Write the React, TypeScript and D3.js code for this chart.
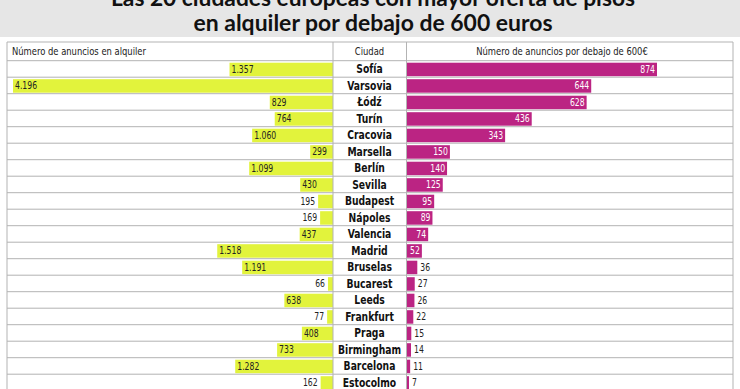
import * as d3 from "d3";

const cities = [
  "Sofía", "Varsovia", "Łódź", "Turín", "Cracovia", "Marsella", "Berlín",
  "Sevilla", "Budapest", "Nápoles", "Valencia", "Madrid", "Bruselas",
  "Bucarest", "Leeds", "Frankfurt", "Praga", "Birmingham", "Barcelona",
  "Estocolmo",
];
const totalListings = [
  1357, 4196, 829, 764, 1060, 299, 1099, 430, 195, 169, 437, 1518, 1191, 66,
  638, 77, 408, 733, 1282, 162,
];
const under600 = [
  874, 644, 628, 436, 343, 150, 140, 125, 95, 89, 74, 52, 36, 27, 26, 22, 15,
  14, 11, 7,
];
const titleLines = [
  "Las 20 ciudades europeas con mayor oferta de pisos",
  "en alquiler por debajo de 600 euros",
];
const headers = [
  "Número de anuncios en alquiler",
  "Ciudad",
  "Número de anuncios por debajo de 600€",
];

const W = 740;
const H = 389;
const tableLeft = 7;
const tableRight = 733;
const tableTop = 42;
const headerH = 18.7;
const rowH = 16.5;
const leftEdge = 333;
const rightEdge = 407;
const narrow = "'DejaVu Sans Condensed', 'DejaVu Sans', sans-serif";

const fmt = d3.formatLocale({
  decimal: ",",
  thousands: ".",
  grouping: [3],
  currency: ["", "€"],
}).format(",d");

// squeezed text, the reference uses a condensed face
const NText = ({ x, y, sx = 0.8, children, ...rest }) => (
  <g transform={`translate(${x},${y}) scale(${sx},1)`}>
    <text x={0} y={0} fontFamily={narrow} {...rest}>
      {children}
    </text>
  </g>
);

const App = () => {
  const xL = d3
    .scaleLinear()
    .domain([0, d3.max(totalListings)])
    .range([0, leftEdge - 13]);
  const xR = d3
    .scaleLinear()
    .domain([0, d3.max(under600)])
    .range([0, 250]);
  const y = d3
    .scaleBand()
    .domain(cities)
    .range([tableTop + headerH, tableTop + headerH + rowH * cities.length]);

  const lineColor = "#b3b3b3";

  return (
    <svg
      width={W}
      height={H}
      style={{ position: "fixed", left: 0, top: 0, background: "#fff" }}
    >
      <rect x={0} y={0} width={W} height={37} fill="#e6e6e6" />
      {titleLines.map((t, i) => (
        <text
          key={i}
          x={373}
          y={6 + i * 24.5}
          textAnchor="middle"
          fontFamily="Lato, 'Open Sans', sans-serif"
          fontWeight="bold"
          fontSize={23}
          fill="#111"
          textLength={i === 0 ? 524 : 359}
          lengthAdjust="spacingAndGlyphs"
        >
          {t}
        </text>
      ))}

      {/* row lines */}
      {cities.map((c) => (
        <line
          key={c}
          x1={tableLeft}
          x2={tableRight}
          y1={y(c)}
          y2={y(c)}
          stroke={lineColor}
          strokeWidth={1}
        />
      ))}
      <line x1={tableLeft} x2={tableRight} y1={tableTop} y2={tableTop} stroke={lineColor} />

      {/* left bars */}
      {cities.map((c, i) => {
        const w = xL(totalListings[i]);
        const inside = w > 20;
        const cy = y(c) + rowH / 2;
        return (
          <g key={c}>
            <rect
              x={leftEdge - w}
              y={y(c) + 2}
              width={w}
              height={rowH - 3}
              fill="#e2f33c"
            />
            <NText
              x={inside ? leftEdge - w + 2 : leftEdge - w - 3}
              y={cy + 4}
              sx={0.78}
              textAnchor={inside ? "start" : "end"}
              fontSize={11}
              fill="#222"
            >
              {fmt(totalListings[i])}
            </NText>
          </g>
        );
      })}

      {/* right bars */}
      {cities.map((c, i) => {
        const w = xR(under600[i]);
        const inside = w > 14;
        const cy = y(c) + rowH / 2;
        return (
          <g key={c}>
            <rect
              x={rightEdge}
              y={y(c) + 2}
              width={w}
              height={rowH - 3}
              fill="#bb2483"
            />
            <NText
              x={inside ? rightEdge + w - 2 : rightEdge + w + 3}
              y={cy + 4}
              sx={0.78}
              textAnchor={inside ? "end" : "start"}
              fontSize={11}
              fill={inside ? "#fff" : "#222"}
            >
              {under600[i]}
            </NText>
          </g>
        );
      })}

      {/* city names */}
      {cities.map((c) => (
        <NText
          key={c}
          x={369.5}
          y={y(c) + rowH / 2 + 4.5}
          sx={0.82}
          textAnchor="middle"
          fontWeight="bold"
          fontSize={12.5}
          fill="#111"
        >
          {c}
        </NText>
      ))}

      {/* headers */}
      <NText x={12} y={tableTop + 13} sx={0.85} fontSize={11} fill="#222">
        {headers[0]}
      </NText>
      <NText x={369.5} y={tableTop + 13} sx={0.85} textAnchor="middle" fontSize={11} fill="#222">
        {headers[1]}
      </NText>
      <NText x={562} y={tableTop + 13} sx={0.85} textAnchor="middle" fontSize={11} fill="#222">
        {headers[2]}
      </NText>

      {/* vertical lines */}
      {[tableLeft, leftEdge, rightEdge - 0.5, tableRight].map((x, i) => (
        <line key={i} x1={x} x2={x} y1={tableTop} y2={H} stroke={lineColor} strokeWidth={1} />
      ))}
    </svg>
  );
};

export default App;
